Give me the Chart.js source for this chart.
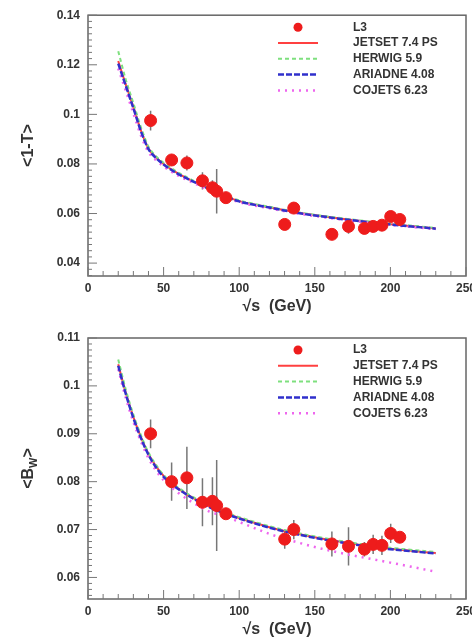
<!DOCTYPE html>
<html>
<head>
<meta charset="utf-8">
<script src="https://cdn.jsdelivr.net/npm/chart.js@4.4.0/dist/chart.umd.min.js"></script>
<style>
  html, body { margin: 0; padding: 0; background: #fff; overflow: hidden; width: 472px; height: 640px; }
  .panel { position: absolute; left: 0; }
</style>
</head>
<body>
<div class="panel" style="top:0"><canvas id="thrust" width="490" height="318"></canvas></div>
<div class="panel" style="top:318px"><canvas id="broad" width="490" height="322"></canvas></div>
<script>
// L3 centre-of-mass energies (GeV)
const energies = [41.4, 55.3, 65.4, 75.7, 82.3, 85.1, 91.2, 130.1, 136.1, 161.3, 172.3, 182.8, 188.6, 194.4, 200.2, 206.2];

// <1-T> measurements and errors
const thrustL3  = [0.0975, 0.0816, 0.0804, 0.0732, 0.0704, 0.0690, 0.0664, 0.0556, 0.0622, 0.0516, 0.0548, 0.0540, 0.0548, 0.0553, 0.0588, 0.0576];
const thrustErr = [0.004, 0.002, 0.003, 0.0035, 0.003, 0.009, 0.001, 0.002, 0.002, 0.002, 0.003, 0.001, 0.001, 0.001, 0.002, 0.001];

// <B_W> measurements and errors
const bwL3  = [0.0900, 0.0800, 0.0808, 0.0757, 0.0759, 0.0750, 0.0733, 0.0680, 0.0700, 0.0670, 0.0665, 0.0659, 0.0669, 0.0667, 0.0692, 0.0684];
const bwErr = [0.003, 0.004, 0.0065, 0.005, 0.005, 0.0095, 0.001, 0.002, 0.002, 0.0026, 0.004, 0.0015, 0.002, 0.002, 0.002, 0.001];

// Monte Carlo predictions, sampled in sqrt(s)
const mcEnergies = [20, 25, 30, 35, 40, 45, 50, 60, 70, 80, 90, 100, 120, 140, 160, 180, 200, 230];

const thrustJetset  = [0.1215, 0.1120, 0.1030, 0.0935, 0.0862, 0.0826, 0.0800, 0.0760, 0.0729, 0.0700, 0.0672, 0.0650, 0.0625, 0.0602, 0.0585, 0.0570, 0.0557, 0.0540];
const thrustHerwig  = [0.1255, 0.1140, 0.1045, 0.0948, 0.0870, 0.0831, 0.0805, 0.0764, 0.0732, 0.0703, 0.0675, 0.0653, 0.0627, 0.0604, 0.0587, 0.0572, 0.0559, 0.0542];
const thrustAriadne = [0.1205, 0.1115, 0.1025, 0.0932, 0.0860, 0.0824, 0.0798, 0.0758, 0.0728, 0.0699, 0.0671, 0.0649, 0.0624, 0.0601, 0.0584, 0.0569, 0.0556, 0.0539];
const thrustCojets  = [0.1185, 0.1095, 0.1005, 0.0915, 0.0848, 0.0815, 0.0790, 0.0752, 0.0723, 0.0695, 0.0668, 0.0646, 0.0621, 0.0599, 0.0582, 0.0567, 0.0554, 0.0537];

const bwJetset  = [0.1045, 0.0985, 0.0935, 0.0893, 0.0858, 0.0832, 0.0812, 0.0785, 0.0765, 0.0748, 0.0735, 0.0724, 0.0705, 0.0690, 0.0678, 0.0668, 0.0660, 0.0651];
const bwHerwig  = [0.1055, 0.0992, 0.0940, 0.0897, 0.0861, 0.0835, 0.0814, 0.0787, 0.0767, 0.0750, 0.0737, 0.0726, 0.0707, 0.0692, 0.0680, 0.0670, 0.0662, 0.0653];
const bwAriadne = [0.1042, 0.0983, 0.0933, 0.0891, 0.0856, 0.0830, 0.0810, 0.0784, 0.0764, 0.0747, 0.0734, 0.0723, 0.0704, 0.0689, 0.0677, 0.0667, 0.0659, 0.0650];
const bwCojets  = [0.1035, 0.0975, 0.0925, 0.0884, 0.0849, 0.0823, 0.0803, 0.0776, 0.0755, 0.0738, 0.0728, 0.0716, 0.0691, 0.0672, 0.0656, 0.0643, 0.0631, 0.0612];

// axis labels
const xTicks      = [0, 50, 100, 150, 200, 250];
const thrustTicks = [0.04, 0.06, 0.08, 0.1, 0.12, 0.14];
const bwTicks     = [0.06, 0.07, 0.08, 0.09, 0.1, 0.11];

const textColor = '#333';
const fontFamily = 'Arial, "Liberation Sans", sans-serif';

function pts(xs, ys) {
  return xs.map((x, i) => ({ x: x, y: ys[i] }));
}

// frame box plus small inward ticks on the left and bottom axes
const framePlugin = {
  id: 'frame',
  afterDraw(chart) {
    const { ctx, chartArea: a, scales } = chart;
    const f = chart.options.plugins.frame;
    ctx.save();
    ctx.strokeStyle = '#666';
    ctx.lineWidth = 1.5;
    ctx.strokeRect(a.left, a.top, a.right - a.left, a.bottom - a.top);
    ctx.lineWidth = 1;
    ctx.strokeStyle = '#777';
    ctx.beginPath();
    for (let v = f.yStart; v <= scales.y.max + 1e-9; v += f.yMinor) {
      const y = scales.y.getPixelForValue(v);
      const major = f.yMajor.some(t => Math.abs(t - v) < 1e-6);
      ctx.moveTo(a.left, y);
      ctx.lineTo(a.left + (major ? 9 : 4), y);
    }
    for (let v = 0; v <= 250; v += 10) {
      const x = scales.x.getPixelForValue(v);
      const major = v % 50 === 0;
      ctx.moveTo(x, a.bottom);
      ctx.lineTo(x, a.bottom - (major ? 9 : 5));
    }
    ctx.stroke();
    ctx.restore();
  }
};

// vertical error bars for the L3 points
const errorBarPlugin = {
  id: 'errorBars',
  beforeDatasetsDraw(chart) {
    const { ctx, scales } = chart;
    const ds = chart.data.datasets[0];
    ctx.save();
    ctx.strokeStyle = '#777';
    ctx.lineWidth = 1.5;
    ctx.beginPath();
    ds.data.forEach((p, i) => {
      const e = ds.errors[i];
      const x = scales.x.getPixelForValue(p.x);
      ctx.moveTo(x, scales.y.getPixelForValue(p.y - e));
      ctx.lineTo(x, scales.y.getPixelForValue(p.y + e));
    });
    ctx.stroke();
    ctx.restore();
  }
};

// legend in the top right corner of the plot
const legendPlugin = {
  id: 'boxLegend',
  afterDraw(chart) {
    const { ctx, chartArea: a } = chart;
    const mx = a.right - 168, tx = a.right - 113;
    ctx.save();
    ctx.font = 'bold 12px ' + fontFamily;
    ctx.textBaseline = 'middle';
    chart.data.datasets.forEach((ds, i) => {
      const y = a.top + 12 + i * 15.8;
      if (i === 0) {
        ctx.beginPath();
        ctx.fillStyle = ds.backgroundColor;
        ctx.arc(mx, y, 4.5, 0, Math.PI * 2);
        ctx.fill();
      } else {
        ctx.beginPath();
        ctx.strokeStyle = ds.borderColor;
        ctx.lineWidth = ds.borderWidth;
        ctx.setLineDash(ds.borderDash || []);
        ctx.moveTo(mx - 20, y);
        ctx.lineTo(mx + 20, y);
        ctx.stroke();
        ctx.setLineDash([]);
      }
      ctx.fillStyle = textColor;
      ctx.fillText(ds.label, tx, y);
    });
    ctx.restore();
  }
};

// axis titles: sqrt(s) below, observable rotated on the left
const titlePlugin = {
  id: 'axisTitles',
  afterDraw(chart) {
    const { ctx, chartArea: a } = chart;
    const parts = chart.options.plugins.axisTitles.y;
    ctx.save();
    ctx.fillStyle = textColor;
    ctx.textBaseline = 'middle';
    ctx.font = 'bold 16px ' + fontFamily;
    ctx.textAlign = 'center';
    ctx.fillText('\u221As  (GeV)', (a.left + a.right) / 2, a.bottom + 31);

    ctx.translate(29, (a.top + a.bottom) / 2);
    ctx.rotate(-Math.PI / 2);
    ctx.textAlign = 'left';
    let w = 0;
    parts.forEach(p => {
      ctx.font = (p.sub ? 'bold 11px ' : 'bold 16px ') + fontFamily;
      w += ctx.measureText(p.text).width;
    });
    let x = -w / 2;
    parts.forEach(p => {
      ctx.font = (p.sub ? 'bold 11px ' : 'bold 16px ') + fontFamily;
      ctx.fillText(p.text, x, p.sub ? 5 : 0);
      x += ctx.measureText(p.text).width;
    });
    ctx.restore();
  }
};

function makeChart(id, cfg) {
  const line = (label, xs, ys, color, dash, width, order) => ({
    label: label, data: pts(xs, ys), showLine: true, borderColor: color, backgroundColor: color,
    borderWidth: width, borderDash: dash, pointRadius: 0, pointHoverRadius: 0, order: order,
    cubicInterpolationMode: 'monotone'
  });
  return new Chart(document.getElementById(id), {
    type: 'scatter',
    data: {
      datasets: [
        { label: 'L3', data: pts(energies, cfg.data), errors: cfg.err,
          backgroundColor: '#ee1c1c', borderColor: '#ee1c1c', pointRadius: 6, pointHoverRadius: 6, order: 0 },
        line('JETSET 7.4 PS', mcEnergies, cfg.jetset, '#ff4040', [], 2, 4),
        line('HERWIG 5.9', mcEnergies, cfg.herwig, '#7ee07e', [4, 3], 2, 3),
        line('ARIADNE 4.08', mcEnergies, cfg.ariadne, '#3030cc', [6, 2], 2.5, 1),
        line('COJETS 6.23', mcEnergies, cfg.cojets, '#ee66ee', [2, 5], 2.5, 2)
      ]
    },
    options: {
      responsive: false,
      animation: false,
      layout: { padding: { top: cfg.padTop, right: 24, left: 0, bottom: 0 } },
      plugins: {
        legend: { display: false },
        tooltip: { enabled: false },
        frame: { yStart: cfg.yStart, yMinor: cfg.yMinor, yMajor: cfg.yTicks },
        axisTitles: { y: cfg.yTitle }
      },
      scales: {
        x: {
          type: 'linear', min: 0, max: 250,
          afterBuildTicks: s => { s.ticks = xTicks.map(v => ({ value: v })); },
          afterFit: s => { s.height = cfg.xAxisHeight; },
          grid: { display: false, drawTicks: false }, border: { display: false },
          ticks: { color: textColor, padding: 5, maxRotation: 0, font: { family: fontFamily, size: 12, weight: 'bold' } }
        },
        y: {
          type: 'linear', min: cfg.yMin, max: cfg.yMax,
          afterBuildTicks: s => { s.ticks = cfg.yTicks.map(v => ({ value: v })); },
          afterFit: s => { s.width = 88; },
          grid: { display: false, drawTicks: false }, border: { display: false },
          ticks: { color: textColor, padding: 8, font: { family: fontFamily, size: 12, weight: 'bold' },
                   callback: v => String(+v.toFixed(4)) }
        }
      }
    },
    plugins: [errorBarPlugin, framePlugin, legendPlugin, titlePlugin]
  });
}

makeChart('thrust', {
  data: thrustL3, err: thrustErr,
  jetset: thrustJetset, herwig: thrustHerwig, ariadne: thrustAriadne, cojets: thrustCojets,
  yMin: 0.0348, yMax: 0.14, yTicks: thrustTicks, yStart: 0.035, yMinor: 0.0025,
  padTop: 14, xAxisHeight: 42,
  yTitle: [{ text: '<1-T>' }]
});

makeChart('broad', {
  data: bwL3, err: bwErr,
  jetset: bwJetset, herwig: bwHerwig, ariadne: bwAriadne, cojets: bwCojets,
  yMin: 0.0555, yMax: 0.11, yTicks: bwTicks, yStart: 0.05625, yMinor: 0.00125,
  padTop: 20, xAxisHeight: 41,
  yTitle: [{ text: '<B' }, { text: 'W', sub: true }, { text: '>' }]
});
</script>
</body>
</html>
